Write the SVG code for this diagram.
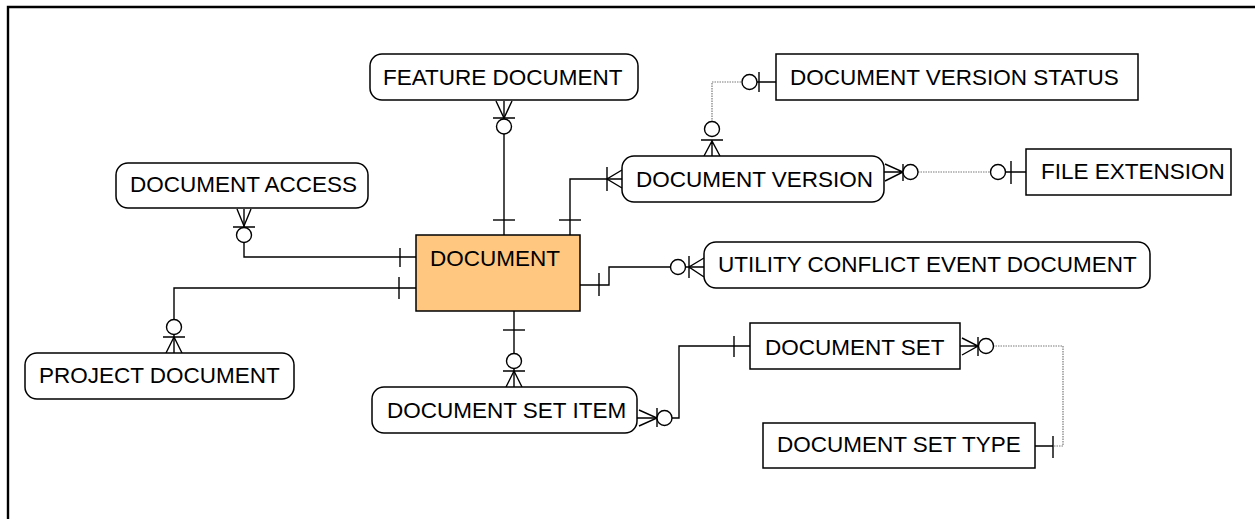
<svg xmlns="http://www.w3.org/2000/svg" width="1255" height="519" viewBox="0 0 1255 519">
<style>
.ent{fill:#fff;stroke:#000;stroke-width:1.5}
.main{fill:#FFC77F;stroke:#000;stroke-width:1.5}
.t{font-family:"Liberation Sans",Arial,sans-serif;font-size:22.5px;fill:#000}
.c{fill:none;stroke:#000;stroke-width:1.4}
.d{fill:none;stroke:#7a7a7a;stroke-width:1.2;stroke-dasharray:1.5 1}
.o{fill:#fff;stroke:#000;stroke-width:1.4}
</style>
<rect width="1255" height="519" fill="#fff"/>
<path d="M8,519 V7 H1255" fill="none" stroke="#000" stroke-width="2.4"/>

<g id="connectors">
  <g id="c-feature">
    <path class="c" d="M504,101 V235"/>
    <path class="c" d="M493,220 H515"/>
    <path class="c" d="M496,101 L504,118 L512,101 M493,118 H515"/>
    <circle class="o" cx="504" cy="126.5" r="7.5"/>
  </g>
  <g id="c-version">
    <path class="c" d="M570,235 V179 H622"/>
    <path class="c" d="M559,220 H581"/>
    <path class="c" d="M607,167 V191 M622,170 L607,179 L622,188"/>
  </g>
  <g id="c-status">
    <path class="d" d="M712,122 V82 H742"/>
    <path class="c" d="M704,156 L712,141 L720,156 M712,141 V156 M701,140 H723"/>
    <circle class="o" cx="712" cy="129" r="7.5"/>
    <circle class="o" cx="749.5" cy="82" r="7.5"/>
    <path class="c" d="M757,82 H776 M759,72 V92"/>
  </g>
  <g id="c-fileext">
    <path class="d" d="M918,172 H991"/>
    <path class="c" d="M885,164 L903,172 L885,181 M884,172 H903 M903,164 V181"/>
    <circle class="o" cx="910.5" cy="172" r="7.5"/>
    <circle class="o" cx="998" cy="172" r="7.5"/>
    <path class="c" d="M1005,172 H1026 M1011,161 V184"/>
  </g>
  <g id="c-access">
    <path class="c" d="M244,209 V257 H416"/>
    <path class="c" d="M237,209 L244,226 L251,209 M233,227 H255"/>
    <circle class="o" cx="244" cy="235" r="7.5"/>
    <path class="c" d="M400,248 V267"/>
  </g>
  <g id="c-project">
    <path class="c" d="M416,288 H174 V353"/>
    <path class="c" d="M399,277 V299"/>
    <path class="c" d="M166,353 L174,337 L182,353 M163,337 H185"/>
    <circle class="o" cx="174" cy="327" r="7.5"/>
  </g>
  <g id="c-utility">
    <path class="c" d="M580,285 H609 V267 H704"/>
    <path class="c" d="M599,273 V296"/>
    <path class="c" d="M689,256 V278 M704,258 L689,267 L704,277"/>
    <circle class="o" cx="678" cy="267" r="7.5"/>
  </g>
  <g id="c-setitem">
    <path class="c" d="M514,311 V387"/>
    <path class="c" d="M503,330 H525"/>
    <path class="c" d="M506,387 L514,371 L522,387 M503,371 H525"/>
    <circle class="o" cx="514" cy="361" r="7.5"/>
  </g>
  <g id="c-set">
    <path class="c" d="M637,418 H679 V346 H750"/>
    <path class="c" d="M639,410 L657,418 L639,426 M657,408 V427"/>
    <circle class="o" cx="664.5" cy="418" r="7.5"/>
    <path class="c" d="M734,336 V357"/>
  </g>
  <g id="c-settype">
    <path class="d" d="M993,346 H1063 V446 H1053"/>
    <path class="c" d="M960,346 H978 M962,338 L978,346 L962,355 M978,337 V356"/>
    <circle class="o" cx="986" cy="346" r="7.5"/>
    <path class="c" d="M1053,446 H1035 M1053,436 V458"/>
  </g>
</g>

<g id="feature-document">
  <rect class="ent" x="370" y="54" width="268" height="46" rx="12"/>
  <text class="t" x="383" y="85">FEATURE DOCUMENT</text>
</g>
<g id="document-version-status">
  <rect class="ent" x="776" y="54" width="362" height="46"/>
  <text class="t" x="790" y="85">DOCUMENT VERSION STATUS</text>
</g>
<g id="document-version">
  <rect class="ent" x="622" y="156" width="262" height="46" rx="12"/>
  <text class="t" x="636" y="187">DOCUMENT VERSION</text>
</g>
<g id="file-extension">
  <rect class="ent" x="1026" y="149" width="205" height="46"/>
  <text class="t" x="1041" y="179">FILE EXTENSION</text>
</g>
<g id="document-access">
  <rect class="ent" x="116" y="163" width="252" height="45" rx="12"/>
  <text class="t" x="130" y="192">DOCUMENT ACCESS</text>
</g>
<g id="document">
  <rect class="main" x="416" y="235" width="164" height="76"/>
  <text class="t" x="430" y="266">DOCUMENT</text>
</g>
<g id="utility-conflict-event-document">
  <rect class="ent" x="704" y="242" width="446" height="46" rx="12"/>
  <text class="t" x="718" y="272">UTILITY CONFLICT EVENT DOCUMENT</text>
</g>
<g id="project-document">
  <rect class="ent" x="25" y="353" width="269" height="46" rx="12"/>
  <text class="t" x="39" y="383">PROJECT DOCUMENT</text>
</g>
<g id="document-set-item">
  <rect class="ent" x="372" y="387" width="265" height="46" rx="12"/>
  <text class="t" x="387" y="418">DOCUMENT SET ITEM</text>
</g>
<g id="document-set">
  <rect class="ent" x="750" y="323" width="210" height="46"/>
  <text class="t" x="765" y="355">DOCUMENT SET</text>
</g>
<g id="document-set-type">
  <rect class="ent" x="763" y="423" width="272" height="45"/>
  <text class="t" x="777" y="452">DOCUMENT SET TYPE</text>
</g>
</svg>
